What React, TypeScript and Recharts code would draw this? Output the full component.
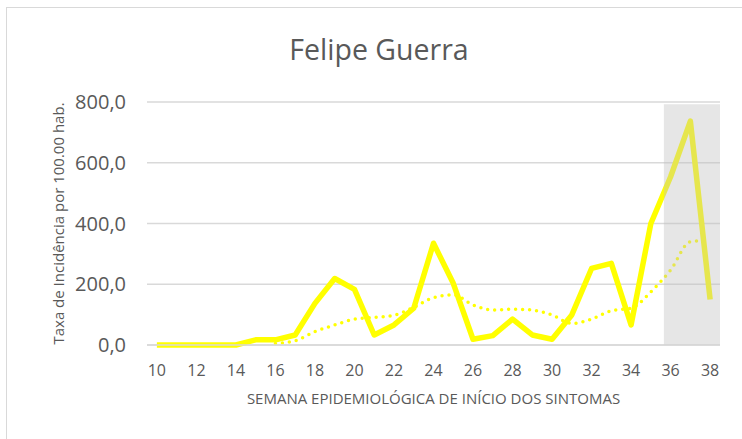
import { LineChart, Line, XAxis, YAxis, CartesianGrid, ReferenceArea, Label } from "recharts";

const weeks = [10, 11, 12, 13, 14, 15, 16, 17, 18, 19, 20, 21, 22, 23, 24, 25, 26, 27, 28, 29, 30, 31, 32, 33, 34, 35, 36, 37, 38];
const incidence = [0, 0, 0, 0, 0, 17, 17, 33, 137, 219, 183, 33, 66, 121, 335, 203, 19, 31, 85, 33, 19, 99, 252, 269, 66, 400, 554, 737, 150];
const trend = [null, null, null, null, null, null, 5, 14, 44, 66, 85, 91, 98, 124, 156, 165, 132, 115, 118, 115, 99, 71, 85, 113, 121, 175, 247, 340, 345];
const xTicks = [10, 12, 14, 16, 18, 20, 22, 24, 26, 28, 30, 32, 34, 36, 38];
const yTicks = [0, 200, 400, 600, 800];
// shaded weeks (still open / incomplete data)
const bandFrom = 35.66;
const bandTo = 38.5;
const bandTop = 793;

const data = weeks.map((w, i) => ({ week: w, taxa: incidence[i], tendencia: trend[i] }));

const font = "'Open Sans', sans-serif";
const textGray = "#595959";

const fmt = (v: number) => v.toFixed(1).replace(".", ",");

export default function App() {
  return (
    <div style={{ position: "absolute", left: 0, top: 0, width: 742, height: 439, overflow: "hidden", background: "#fff", fontFamily: font }}>
      <div style={{ position: "absolute", left: 6, top: 7, width: 800, height: 500, borderTop: "1px solid #d9d9d9", borderLeft: "1px solid #d9d9d9" }} />
      <div style={{ position: "absolute", left: 0, top: 30, width: 758, textAlign: "center", fontSize: 28.5, color: textGray }}>
        Felipe Guerra
      </div>
      <div style={{ position: "absolute", left: 0, top: 0 }}>
        <LineChart width={742} height={439} data={data} margin={{ top: 102, right: 22, bottom: 0, left: 0 }}>
          <CartesianGrid vertical={false} stroke="#d9d9d9" strokeWidth={1.5} />
          <XAxis
            dataKey="week"
            type="number"
            domain={[9.5, 38.5]}
            ticks={xTicks}
            height={94}
            tickLine={false}
            tickSize={0}
            tickMargin={20}
            axisLine={{ stroke: "#d9d9d9", strokeWidth: 1.5 }}
            tick={{ fill: textGray, fontSize: 16, fontFamily: font }}
          >
            <Label value="SEMANA EPIDEMIOLÓGICA DE INÍCIO DOS SINTOMAS" position="insideBottom" offset={35} fill={textGray} fontSize={15} fontFamily={font} />
          </XAxis>
          <YAxis
            domain={[0, 800]}
            ticks={yTicks}
            width={147}
            tickLine={false}
            axisLine={false}
            tickSize={0}
            tickMargin={21}
            tickFormatter={fmt}
            tick={{ fill: textGray, fontSize: 20, fontFamily: font }}
          >
            <Label value="Taxa de Incidência por 100.00 hab." angle={-90} position="center" dx={-15} fill={textGray} fontSize={15} fontFamily={font} />
          </YAxis>
          <Line
            dataKey="tendencia"
            type="monotone"
            stroke="#ffff00"
            strokeWidth={3.5}
            strokeDasharray="0 7"
            strokeLinecap="round"
            dot={false}
            isAnimationActive={false}
          />
          <Line
            dataKey="taxa"
            type="linear"
            stroke="#ffff00"
            strokeWidth={5.5}
            strokeLinejoin="round"
            dot={false}
            isAnimationActive={false}
          />
          <ReferenceArea x1={bandFrom} x2={bandTo} y1={0} y2={bandTop} fill="#c0c0c0" fillOpacity={0.4} stroke="none" zIndex={450} />
        </LineChart>
      </div>
    </div>
  );
}
